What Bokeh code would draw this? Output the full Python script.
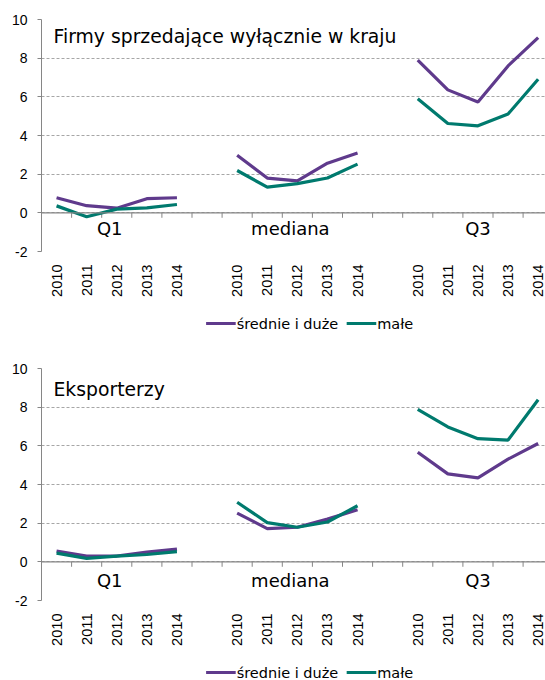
import math

from bokeh.embed import file_html
from bokeh.layouts import column
from bokeh.models import FixedTicker, Label, Range1d, Span
from bokeh.plotting import figure
from bokeh.resources import INLINE

# Categories
years = ["2010", "2011", "2012", "2013", "2014"]
groups = ["Q1", "mediana", "Q3"]
series_names = ["średnie i duże", "małe"]
y_ticks = [-2, 0, 2, 4, 6, 8, 10]

# Firmy sprzedające wyłącznie w kraju (Q1, mediana, Q3 – po 5 lat)
dom_large = [0.78, 0.37, 0.24, 0.73, 0.78,
             2.98, 1.80, 1.65, 2.57, 3.10,
             7.90, 6.36, 5.73, 7.60, 9.06]
dom_small = [0.36, -0.20, 0.19, 0.26, 0.43,
             2.19, 1.33, 1.51, 1.80, 2.52,
             5.90, 4.62, 4.50, 5.11, 6.91]

# Eksporterzy
exp_large = [0.55, 0.30, 0.30, 0.50, 0.66,
             2.52, 1.72, 1.79, 2.21, 2.69,
             5.67, 4.55, 4.34, 5.31, 6.12]
exp_small = [0.45, 0.18, 0.30, 0.38, 0.53,
             3.08, 2.03, 1.79, 2.06, 2.90,
             7.89, 6.98, 6.37, 6.30, 8.38]

PURPLE = "#5F3A8C"
TEAL = "#007A6E"
SERIES_COLORS = [PURPLE, TEAL]
AXIS_GREY = "#868686"
GRID_GREY = "#A6A6A6"
TICK_FONT = "Liberation Sans"
TEXT_FONT = "DejaVu Sans"
LINE_W = 3.2

N_YEARS = len(years)
SLOT = N_YEARS + 1            # five years plus one empty slot per group
FRAME_W = 504
FRAME_H = 234
CAT_PX = 30.1                 # width of one category slot in pixels
PX_PER_UNIT = FRAME_H / 12.0  # vertical pixels per unit of the value axis
AXIS_STRIP = 46               # room under the frame for the year labels

# key layout (pixels inside the key strip)
KEY_SWATCH = 32
KEY_STARTS = [178, 330]


def positions():
    """x positions of every year, grouped by Q1 / mediana / Q3."""
    return [[g * SLOT + j + 1 for j in range(N_YEARS)] for g in range(len(groups))]


def make_chart(title, series, top, title_y, label_y):
    xs = positions()
    n_slots = len(groups) * SLOT - 1
    p = figure(
        width=545, height=top + FRAME_H + AXIS_STRIP,
        x_range=Range1d(0.5, 0.5 + FRAME_W / CAT_PX),
        y_range=Range1d(-2, 10),
        output_backend="svg", toolbar_location=None,
        min_border_left=41, min_border_right=0,
        min_border_top=top, min_border_bottom=AXIS_STRIP,
    )
    p.outline_line_color = None
    p.background_fill_color = "white"
    p.border_fill_color = "white"

    # year labels under the plot
    year_pos = [x for grp in xs for x in grp]
    xa = p.xaxis[0]
    xa.ticker = FixedTicker(ticks=year_pos)
    xa.major_label_overrides = {x: years[i % N_YEARS] for i, x in enumerate(year_pos)}
    xa.major_label_orientation = math.pi / 2
    xa.axis_line_color = None
    xa.major_tick_line_color = None
    xa.major_tick_in = 0
    xa.major_tick_out = 0
    xa.minor_tick_line_color = None
    xa.major_label_standoff = 13
    xa.major_label_text_font = TICK_FONT
    xa.major_label_text_font_size = "14.6px"
    xa.major_label_text_color = "black"

    ya = p.yaxis[0]
    ya.ticker = FixedTicker(ticks=y_ticks)
    ya.major_label_overrides = {t: str(t) for t in y_ticks}
    ya.axis_line_color = AXIS_GREY
    ya.major_tick_line_color = AXIS_GREY
    ya.major_tick_in = 0
    ya.major_tick_out = 4
    ya.minor_tick_line_color = None
    ya.major_label_standoff = 10
    ya.major_label_text_font = TICK_FONT
    ya.major_label_text_font_size = "14px"
    ya.major_label_text_color = "black"

    p.xgrid.grid_line_color = None
    p.ygrid.ticker = FixedTicker(ticks=y_ticks)
    p.ygrid.grid_line_color = GRID_GREY
    p.ygrid.grid_line_dash = "3 2"
    p.ygrid.grid_line_width = 1

    # solid category axis along zero, with ticks on the category borders
    p.add_layout(Span(location=0, dimension="width",
                      line_color=AXIS_GREY, line_width=1.2))
    borders = [i + 0.5 for i in range(1, n_slots)]
    p.segment(x0=borders, y0=[0] * len(borders),
              x1=borders, y1=[-5 / PX_PER_UNIT] * len(borders),
              line_color=AXIS_GREY, line_width=1)

    for values, color in zip(series, SERIES_COLORS):
        p.multi_line(
            xs=xs,
            ys=[values[g * N_YEARS:(g + 1) * N_YEARS] for g in range(len(groups))],
            line_color=color, line_width=LINE_W,
        )

    # group names just under the zero line
    centres = [grp[N_YEARS // 2] for grp in xs]
    p.text(
        x=centres, y=[label_y] * len(groups), text=groups,
        x_offset=[-7, -7, 0],
        text_align="center", text_baseline="middle",
        text_font={"value": TEXT_FONT}, text_font_size="18px", text_color="black",
    )

    p.add_layout(Label(
        x=0.5, y=title_y, x_offset=12, text=title,
        text_align="left", text_baseline="middle",
        text_font=TEXT_FONT, text_font_size="18.8px", text_color="black",
    ))
    return p


def make_key(height, centre_y):
    """Strip with the series key drawn under a chart (pixel coordinates)."""
    kp = figure(
        width=545, height=height,
        x_range=Range1d(0, 545), y_range=Range1d(0, height),
        output_backend="svg", toolbar_location=None,
        x_axis_location=None, y_axis_location=None,
        min_border=0,
    )
    kp.grid.visible = False
    kp.outline_line_color = None
    kp.segment(
        x0=KEY_STARTS, y0=[centre_y] * 2,
        x1=[s + KEY_SWATCH for s in KEY_STARTS], y1=[centre_y] * 2,
        line_color=SERIES_COLORS, line_width=LINE_W,
    )
    kp.text(
        x=[s + KEY_SWATCH + 1 for s in KEY_STARTS], y=[centre_y] * 2,
        text=series_names,
        text_align="left", text_baseline="middle",
        text_font={"value": TEXT_FONT}, text_font_size="14.5px", text_color="black",
    )
    return kp


p1 = make_chart("Firmy sprzedające wyłącznie w kraju", [dom_large, dom_small],
                top=19, title_y=9.13, label_y=-0.8)
k1 = make_key(41, 17)
p2 = make_chart("Eksporterzy", [exp_large, exp_small],
                top=28, title_y=8.92, label_y=-0.96)
k2 = make_key(32, 8)

layout = column(p1, k1, p2, k2, spacing=0)
open("out.html", "w").write(file_html(layout, INLINE))
